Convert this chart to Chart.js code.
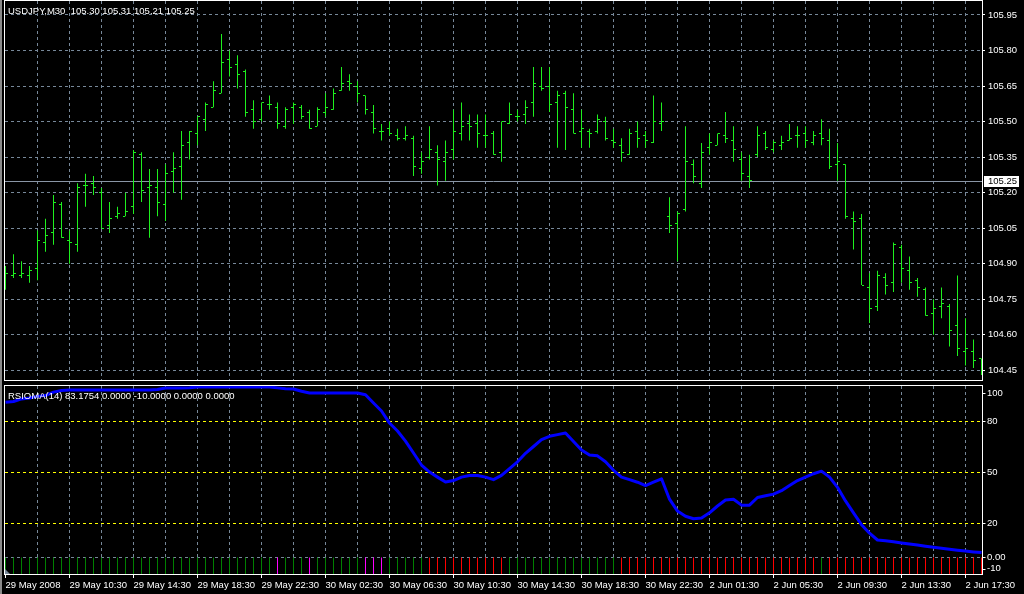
<!DOCTYPE html>
<html>
<head>
<meta charset="utf-8">
<title>USDJPY,M30 - RSIOMA</title>
<script src="https://cdn.jsdelivr.net/npm/chart.js@4/dist/chart.umd.min.js"></script>
<style>
    html, body { margin: 0; padding: 0; background: #000; overflow: hidden; }
    #wrap { position: relative; width: 1024px; height: 594px; background: #000; }
    #priceCanvas { position: absolute; left: 0; top: 0; }
    #rsiCanvas { position: absolute; left: 0; top: 382px; }
    #frame { position: absolute; left: 0; top: 0; width: 2px; height: 594px; background: #8a8a8a; }
</style>
</head>
<body>
<div id="wrap">
    <canvas id="priceCanvas" width="1024" height="382"></canvas>
    <canvas id="rsiCanvas" width="1024" height="212"></canvas>
    <div id="frame"></div>
</div>
<script>
// Données (USDJPY, M30, 123 barres)
const timeLabels = ['29 May 2008', '29 May 10:30', '29 May 14:30', '29 May 18:30', '29 May 22:30',
    '30 May 02:30', '30 May 06:30', '30 May 10:30', '30 May 14:30', '30 May 18:30', '30 May 22:30',
    '2 Jun 01:30', '2 Jun 05:30', '2 Jun 09:30', '2 Jun 13:30', '2 Jun 17:30'];

const priceTicks = [104.45, 104.60, 104.75, 104.90, 105.05, 105.20, 105.35, 105.50, 105.65, 105.80, 105.95];

const opens = [
    104.87, 104.85, 104.85, 104.85, 104.88, 104.99, 105.03, 105.15, 105.00, 104.98,
    105.23, 105.24, 105.20, 105.06, 105.10, 105.10, 105.14, 105.36, 105.22, 105.22,
    105.15, 105.29, 105.31, 105.41, 105.45, 105.51, 105.56, 105.62, 105.76, 105.74,
    105.71, 105.55, 105.51, 105.57, 105.56, 105.48, 105.56, 105.56, 105.54, 105.48,
    105.54, 105.55, 105.63, 105.67, 105.65, 105.61, 105.54, 105.46, 105.47, 105.44,
    105.43, 105.43, 105.30, 105.35, 105.37, 105.33, 105.38, 105.45, 105.49, 105.49,
    105.44, 105.45, 105.37, 105.49, 105.52, 105.53, 105.58, 105.65, 105.65, 105.58,
    105.62, 105.55, 105.46, 105.46, 105.46, 105.50, 105.42, 105.40, 105.36, 105.46,
    105.44, 105.41, 105.49, 105.10, 105.07, 105.13, 105.32, 105.24, 105.39, 105.40,
    105.44, 105.42, 105.34, 105.27, 105.36, 105.45, 105.38, 105.40, 105.42, 105.44,
    105.45, 105.41, 105.45, 105.42, 105.32, 105.32, 105.09, 105.09, 104.80, 104.72,
    104.84, 104.82, 104.97, 104.87, 104.83, 104.79, 104.69, 104.72, 104.72, 104.64,
    104.53, 104.53, 104.50
];
const highs = [
    104.89, 104.94, 104.91, 104.89, 105.04, 105.09, 105.19, 105.16, 105.04, 105.24,
    105.28, 105.27, 105.22, 105.16, 105.14, 105.20, 105.38, 105.37, 105.30, 105.30,
    105.32, 105.37, 105.46, 105.46, 105.52, 105.58, 105.67, 105.87, 105.80, 105.78,
    105.72, 105.59, 105.58, 105.61, 105.58, 105.56, 105.58, 105.57, 105.55, 105.56,
    105.62, 105.64, 105.73, 105.70, 105.67, 105.61, 105.57, 105.49, 105.50, 105.47,
    105.48, 105.44, 105.37, 105.48, 105.40, 105.42, 105.55, 105.58, 105.53, 105.53,
    105.53, 105.46, 105.50, 105.58, 105.55, 105.59, 105.73, 105.73, 105.73, 105.63,
    105.63, 105.62, 105.55, 105.47, 105.53, 105.52, 105.47, 105.43, 105.47, 105.50,
    105.46, 105.61, 105.58, 105.18, 105.12, 105.48, 105.34, 105.41, 105.45, 105.45,
    105.54, 105.48, 105.37, 105.36, 105.48, 105.46, 105.42, 105.44, 105.49, 105.48,
    105.48, 105.46, 105.51, 105.47, 105.41, 105.32, 105.12, 105.11, 104.86, 104.87,
    104.86, 104.99, 104.98, 104.93, 104.84, 104.80, 104.75, 104.80, 104.73, 104.85,
    104.67, 104.58, 104.50
];
const lows = [
    104.79, 104.84, 104.84, 104.82, 104.83, 104.95, 104.98, 105.01, 104.90, 104.95,
    105.14, 105.19, 105.05, 105.03, 105.09, 105.10, 105.11, 105.16, 105.01, 105.10,
    105.08, 105.20, 105.17, 105.34, 105.40, 105.46, 105.56, 105.62, 105.69, 105.64,
    105.52, 105.47, 105.50, 105.55, 105.47, 105.47, 105.49, 105.51, 105.47, 105.48,
    105.52, 105.55, 105.63, 105.63, 105.58, 105.53, 105.45, 105.42, 105.44, 105.42,
    105.42, 105.27, 105.28, 105.34, 105.23, 105.25, 105.34, 105.42, 105.42, 105.39,
    105.39, 105.36, 105.33, 105.49, 105.50, 105.49, 105.52, 105.63, 105.54, 105.39,
    105.38, 105.45, 105.39, 105.39, 105.45, 105.42, 105.39, 105.33, 105.36, 105.39,
    105.39, 105.41, 105.46, 105.03, 104.91, 105.12, 105.24, 105.22, 105.36, 105.40,
    105.41, 105.33, 105.25, 105.22, 105.35, 105.38, 105.37, 105.38, 105.42, 105.39,
    105.39, 105.40, 105.40, 105.30, 105.25, 105.09, 104.96, 104.81, 104.65, 104.70,
    104.77, 104.78, 104.82, 104.79, 104.76, 104.68, 104.60, 104.67, 104.55, 104.51,
    104.47, 104.46, 104.43
];
const closes = [
    104.86, 104.86, 104.86, 104.87, 105.00, 105.02, 105.16, 105.01, 104.99, 105.22,
    105.23, 105.22, 105.05, 105.09, 105.11, 105.12, 105.37, 105.21, 105.23, 105.16,
    105.28, 105.30, 105.40, 105.46, 105.52, 105.57, 105.63, 105.75, 105.73, 105.70,
    105.54, 105.50, 105.58, 105.57, 105.49, 105.55, 105.57, 105.52, 105.47, 105.55,
    105.56, 105.62, 105.66, 105.66, 105.62, 105.55, 105.47, 105.46, 105.45, 105.43,
    105.44, 105.31, 105.33, 105.38, 105.34, 105.37, 105.46, 105.48, 105.48, 105.45,
    105.44, 105.36, 105.50, 105.53, 105.52, 105.56, 105.66, 105.64, 105.57, 105.61,
    105.56, 105.45, 105.47, 105.45, 105.51, 105.43, 105.41, 105.37, 105.45, 105.43,
    105.42, 105.50, 105.50, 105.06, 105.11, 105.33, 105.27, 105.37, 105.41, 105.45,
    105.43, 105.38, 105.28, 105.25, 105.44, 105.39, 105.41, 105.41, 105.43, 105.44,
    105.42, 105.44, 105.43, 105.31, 105.33, 105.10, 105.08, 104.81, 104.71, 104.85,
    104.81, 104.98, 104.88, 104.82, 104.80, 104.68, 104.71, 104.73, 104.62, 104.54,
    104.54, 104.49, 104.45
];

// Indicateur RSIOMA(14)
const rsioma = [
    91, 91.5, 93, 93.5, 94.5, 95, 97, 98, 98.2, 98.2,
    98.2, 98.2, 98.2, 98.2, 98.2, 98.2, 98.2, 98.2, 98.2, 98.5,
    99.4, 99.4, 99.4, 99.6, 100, 100, 100, 100, 100, 100,
    100, 100, 100, 100, 99.5, 99, 98.8, 97.5, 96.5, 96.5,
    96.5, 96.5, 96.5, 96.5, 96.5, 95.5, 90.6, 85.9, 78.8, 74.1,
    68.2, 61.2, 54.1, 50, 47, 44.1, 45, 47, 48, 48,
    47, 45.5, 48, 52, 56, 61, 65, 69, 71, 72,
    73, 68, 63, 60, 59.5, 56, 51, 47, 45.5, 44,
    42, 44, 46, 34, 27, 24, 22.5, 23, 26, 30,
    33.5, 34, 30.5, 30.5, 35, 36, 37, 39, 42, 45,
    47, 49, 50.5, 47, 41, 33, 26, 19, 14, 10,
    9.5, 9, 8.3, 7.6, 7, 6.3, 5.7, 5.1, 4.5, 4,
    3.5, 3, 2.6
];
// Histogramme du signal (niveau -10, couleur selon la tendance)
const histLevel = [
    -10, -10, -10, -10, -10, -10, -10, -10, -10, -10,
    -10, -10, -10, -10, -10, -10, -10, -10, -10, -10,
    -10, -10, -10, -10, -10, -10, -10, -10, -10, -10,
    -10, -10, -10, -10, -10, -10, -10, -10, -10, -10,
    -10, -10, -10, -10, -10, -10, -10, -10, -10, -10,
    -10, -10, -10, -10, -10, -10, -10, -10, -10, -10,
    -10, -10, -10, -10, -10, -10, -10, -10, -10, -10,
    -10, -10, -10, -10, -10, -10, -10, -10, -10, -10,
    -10, -10, -10, -10, -10, -10, -10, -10, -10, -10,
    -10, -10, -10, -10, -10, -10, -10, -10, -10, -10,
    -10, -10, -10, -10, -10, -10, -10, -10, -10, -10,
    -10, -10, -10, -10, -10, -10, -10, -10, -10, -10,
    -10, -10, -10
];
const histSignal = (
    'gggggggggg' + 'gggggggggg' + 'gggggggggg' + 'ggggmgggmg' +
    'gggggmmmgg' + 'gggrrrrrrr' + 'rrrggggggg' + 'gggggggrrr' +
    'rrrrrrrrrr' + 'rrrrrrrrrr' + 'rrgrrrrrrr' + 'rrrrrrrrrr' + 'rrr'
).split('');

const rsiTicks = [100, 80, 50, 20, 0, -10];
const rsiTickLabels = ['100', '80', '50', '20', '0.00', '-10'];
const bidPrice = 105.25;
const headerText = 'USDJPY,M30  105.30 105.31 105.21 105.25';
const rsiHeaderText = 'RSIOMA(14) 83.1754 0.0000 -10.0000 0.0000 0.0000';

// Réglages d'affichage
const xMin = -0.0625, xMax = 122.0625;
const priceMin = 104.409, priceMax = 106.009;
const rsiMin = -10, rsiMax = 100.6;
const gridColor = '#778899';
const barColor = '#1ef01e';
const signalColors = { g: '#008000', m: '#ff00ff', r: '#ff0000' };
const fontFamily = '"Liberation Sans", Arial, sans-serif';
const labelFont = { family: fontFamily, size: 9.5 };

// Lignes verticales de la grille toutes les 4 barres
const gridBars = [];
for (let b = 0; b <= 120; b += 4) gridBars.push(b);

// Plugin : ligne du bid, ticks open/close, cadre et textes du graphique des prix
const priceDecor = {
    id: 'priceDecor',
    beforeDatasetsDraw(chart) {
        const { ctx, chartArea: a, scales: { y } } = chart;
        const yb = Math.round(y.getPixelForValue(bidPrice)) + 0.5;
        ctx.save();
        ctx.strokeStyle = '#8a96a6';
        ctx.lineWidth = 1;
        ctx.beginPath();
        ctx.moveTo(a.left, yb);
        ctx.lineTo(a.right, yb);
        ctx.stroke();
        ctx.restore();
    },
    afterDatasetsDraw(chart) {
        const { ctx, chartArea: a, scales: { x, y } } = chart;
        ctx.save();
        ctx.beginPath();
        ctx.rect(a.left, a.top, a.right - a.left, a.bottom - a.top);
        ctx.clip();
        ctx.strokeStyle = barColor;
        ctx.lineWidth = 1;
        ctx.beginPath();
        for (let i = 0; i < opens.length; i++) {
            const px = Math.floor(x.getPixelForValue(i)) + 0.5;
            const yo = Math.floor(y.getPixelForValue(opens[i])) + 0.5;
            const yc = Math.floor(y.getPixelForValue(closes[i])) + 0.5;
            ctx.moveTo(px - 2.5, yo);
            ctx.lineTo(px - 0.5, yo);
            ctx.moveTo(px + 0.5, yc);
            ctx.lineTo(px + 2.5, yc);
        }
        ctx.stroke();
        ctx.restore();
    },
    afterDraw(chart) {
        const { ctx, chartArea: a, scales: { y } } = chart;
        ctx.save();
        ctx.strokeStyle = '#ffffff';
        ctx.lineWidth = 1;
        ctx.strokeRect(a.left - 0.5, a.top - 0.5, a.right - a.left + 1, a.bottom - a.top + 1);

        ctx.font = '9.5px ' + fontFamily;
        ctx.fillStyle = '#ffffff';
        ctx.textAlign = 'left';
        ctx.textBaseline = 'alphabetic';
        ctx.fillText(headerText, 8, 14);

        // étiquette du prix courant
        const yb = y.getPixelForValue(bidPrice);
        ctx.fillRect(a.right + 2, Math.round(yb) - 5, 35, 11);
        ctx.fillStyle = '#000000';
        ctx.textBaseline = 'middle';
        ctx.fillText(bidPrice.toFixed(2), a.right + 6, yb + 0.5);
        ctx.restore();
    }
};

// Plugin : cadre, graduations et titre du sous-graphique RSIOMA
const rsiDecor = {
    id: 'rsiDecor',
    afterDraw(chart) {
        const { ctx, chartArea: a, scales: { y } } = chart;
        ctx.save();
        ctx.strokeStyle = '#ffffff';
        ctx.lineWidth = 1;
        ctx.strokeRect(a.left - 0.5, a.top - 0.5, a.right - a.left + 1, a.bottom - a.top + 1);

        ctx.font = '9.5px ' + fontFamily;
        ctx.fillStyle = '#ffffff';
        ctx.textAlign = 'left';
        ctx.textBaseline = 'middle';
        rsiTicks.forEach((v, k) => {
            let py = y.getPixelForValue(v);
            py = Math.min(Math.max(py, a.top + 7), a.bottom - 5.5);
            const ty = Math.round(py) + 0.5;
            ctx.beginPath();
            ctx.moveTo(a.right + 0.5, ty);
            ctx.lineTo(a.right + 3.5, ty);
            ctx.stroke();
            ctx.fillText(rsiTickLabels[k], a.right + 5, py);
        });

        ctx.textBaseline = 'alphabetic';
        ctx.fillText(rsiHeaderText, 8, a.top + 13);

        // petit repère gris en bas à gauche
        ctx.fillStyle = gridColor;
        ctx.beginPath();
        ctx.moveTo(a.left, a.bottom - 5);
        ctx.lineTo(a.left, a.bottom);
        ctx.lineTo(a.left + 5, a.bottom);
        ctx.closePath();
        ctx.fill();
        ctx.restore();
    }
};

const commonOptions = {
    responsive: false,
    animation: false,
    devicePixelRatio: 1,
    events: [],
    plugins: { legend: { display: false }, tooltip: { enabled: false } }
};

// Graphique des prix (barres OHLC)
new Chart(document.getElementById('priceCanvas'), {
    type: 'bar',
    data: {
        datasets: [{
            data: highs.map((h, i) => ({ x: i, y: [lows[i], h] })),
            backgroundColor: barColor,
            borderWidth: 0,
            barThickness: 1,
            inflateAmount: 0
        }]
    },
    options: {
        ...commonOptions,
        layout: { padding: { left: 5, top: 1, right: 0, bottom: 2 } },
        scales: {
            x: {
                type: 'linear', min: xMin, max: xMax, offset: false,
                afterBuildTicks: s => { s.ticks = gridBars.map(v => ({ value: v })); },
                afterFit: s => { s.height = 0; s.paddingLeft = 0; s.paddingRight = 0; },
                ticks: { display: false },
                grid: {
                    offset: false, drawTicks: false,
                    color: c => (c.tick && c.tick.value === 0) ? 'transparent' : gridColor
                },
                border: { display: false, dash: [3, 3] }
            },
            y: {
                type: 'linear', position: 'right', min: priceMin, max: priceMax,
                afterBuildTicks: s => { s.ticks = priceTicks.map(v => ({ value: v })); },
                afterFit: s => { s.width = 42; s.paddingTop = 0; s.paddingBottom = 0; },
                ticks: { color: '#ffffff', font: labelFont, padding: 3, callback: v => Number(v).toFixed(2) },
                grid: { color: gridColor, drawTicks: true, tickLength: 3, tickColor: '#ffffff', tickBorderDash: [] },
                border: { display: false, dash: [3, 3] }
            }
        }
    },
    plugins: [priceDecor]
});

// Sous-graphique RSIOMA(14)
new Chart(document.getElementById('rsiCanvas'), {
    type: 'bar',
    data: {
        datasets: [{
            type: 'line',
            data: rsioma.map((v, i) => ({ x: i, y: v })),
            borderColor: '#0000ff',
            borderWidth: 3,
            pointRadius: 0,
            tension: 0,
            borderJoinStyle: 'round',
            order: 0
        }, {
            type: 'bar',
            data: histLevel.map((v, i) => ({ x: i, y: v })),
            backgroundColor: histSignal.map(s => signalColors[s]),
            borderWidth: 0,
            barThickness: 1,
            inflateAmount: 0,
            order: 1
        }]
    },
    options: {
        ...commonOptions,
        layout: { padding: { left: 5, top: 4, right: 0, bottom: 0 } },
        scales: {
            x: {
                type: 'linear', min: xMin, max: xMax, offset: false,
                afterBuildTicks: s => { s.ticks = gridBars.map(v => ({ value: v })); },
                afterFit: s => { s.height = 20; s.paddingLeft = 0; s.paddingRight = 0; },
                ticks: {
                    color: '#ffffff', font: labelFont, autoSkip: false, maxRotation: 0, minRotation: 0,
                    align: 'start', padding: 2,
                    callback: v => (v % 8 === 0) ? timeLabels[v / 8] : ''
                },
                grid: {
                    offset: false, drawTicks: true, tickLength: 4, tickBorderDash: [],
                    color: c => (c.tick && c.tick.value === 0) ? 'transparent' : gridColor,
                    tickColor: c => (c.tick && c.tick.value % 8 === 0) ? '#ffffff' : 'transparent'
                },
                border: { display: false, dash: [3, 3] }
            },
            y: {
                type: 'linear', position: 'right', min: rsiMin, max: rsiMax,
                afterBuildTicks: s => { s.ticks = rsiTicks.map(v => ({ value: v })); },
                afterFit: s => { s.width = 42; s.paddingTop = 0; s.paddingBottom = 0; },
                ticks: { display: false },
                grid: {
                    drawTicks: false,
                    color: c => {
                        const v = c.tick ? c.tick.value : null;
                        if (v === 80 || v === 50 || v === 20) return '#ffff00';
                        if (v === 0) return gridColor;
                        return 'transparent';
                    }
                },
                border: { display: false, dash: [3, 3] }
            }
        }
    },
    plugins: [rsiDecor]
});
</script>
</body>
</html>
